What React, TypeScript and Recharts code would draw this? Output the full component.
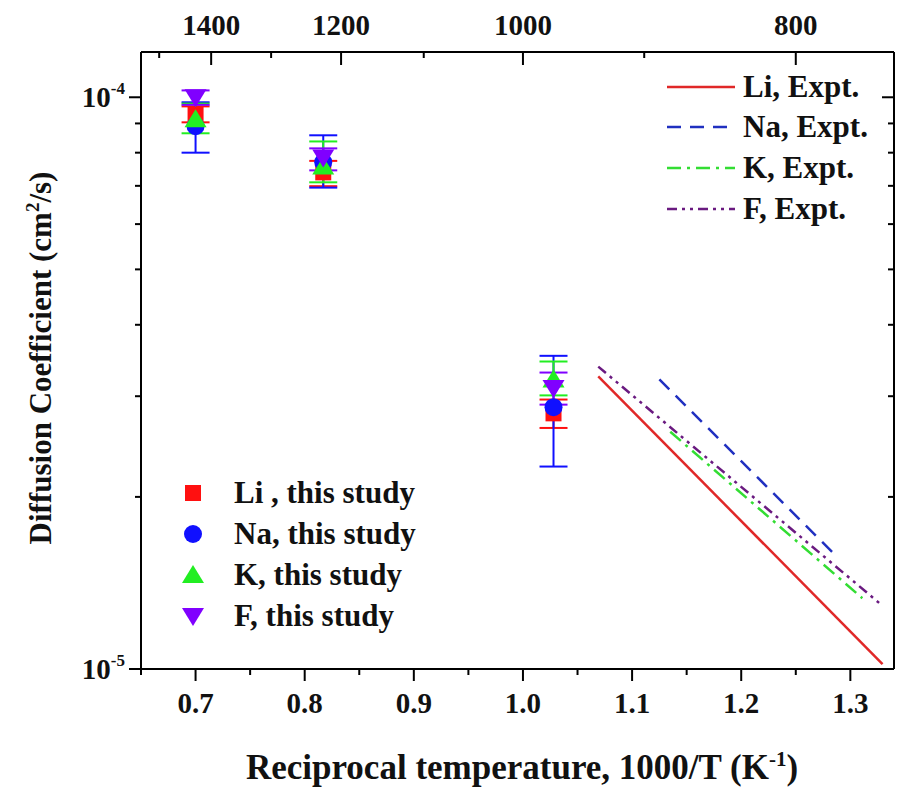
import React from 'react';
import { ComposedChart, XAxis, YAxis, Scatter, Line, ErrorBar } from 'recharts';

// 1000/T positions of the simulated points
const simX = [0.70, 0.817, 1.028];

// diffusion coefficients (cm^2/s) and [down, up] error deltas
const liVals = [9.34e-5, 7.39e-5, 2.80e-5];
const liErr = [[0.3e-5, 0.3e-5], [0.4e-5, 0.35e-5], [0.16e-5, 0.16e-5]];
const naVals = [8.9e-5, 7.7e-5, 2.87e-5];
const naErr = [[0.9e-5, 0.9e-5], [0.75e-5, 0.88e-5], [0.61e-5, 0.66e-5]];
const kVals = [9.15e-5, 7.57e-5, 3.21e-5];
const kErr = [[0.5e-5, 0.6e-5], [0.47e-5, 0.8e-5], [0.2e-5, 0.24e-5]];
const fVals = [1.0e-4, 7.85e-5, 3.10e-5];
const fErr = [[0.3e-5, 0.28e-5], [0.4e-5, 0.29e-5], [0.2e-5, 0.2e-5]];

// experimental Arrhenius lines: [x, D] end points
const liExpt = [[1.069, 3.25e-5], [1.3295, 1.02e-5]];
const naExpt = [[1.125, 3.21e-5], [1.288, 1.57e-5]];
const kExpt = [[1.135, 2.60e-5], [1.311, 1.33e-5]];
const fExpt = [[1.069, 3.38e-5], [1.3295, 1.29e-5]];

// axis ticks
const bottomTicks = [0.65, 0.7, 0.75, 0.8, 0.85, 0.9, 0.95, 1.0, 1.05, 1.1, 1.15, 1.2, 1.25, 1.3];
const topTemps = [1500, 1400, 1300, 1200, 1100, 1000, 900, 800];
const topMajor = [1400, 1200, 1000, 800];
const yTicks = [1e-5, 2e-5, 3e-5, 4e-5, 5e-5, 6e-5, 7e-5, 8e-5, 9e-5, 1e-4];

const FONT = '"Liberation Serif", serif';

const pts = (vals: number[], errs: number[][]) =>
  simX.map((x, i) => ({ x, y: vals[i], err: errs[i] }));
const line = (p: number[][]) => p.map(([x, y]) => ({ x, y }));

const C = {
  li: '#ff1010',
  na: '#1010ff',
  k: '#22ee22',
  f: '#8000ff',
  liL: '#e02828',
  naL: '#2030c0',
  kL: '#33dd33',
  fL: '#6a1a80',
};

const Square = (p: any) => <rect x={p.cx - 8} y={p.cy - 8} width={16} height={16} fill={C.li} />;
const Circle = (p: any) => <circle cx={p.cx} cy={p.cy} r={9} fill={C.na} />;
const TriUp = (p: any) => (
  <path d={`M${p.cx},${p.cy - 10} L${p.cx + 11},${p.cy + 8} L${p.cx - 11},${p.cy + 8}Z`} fill={C.k} />
);
const TriDown = (p: any) => (
  <path d={`M${p.cx},${p.cy + 10} L${p.cx + 11},${p.cy - 8} L${p.cx - 11},${p.cy - 8}Z`} fill={C.f} />
);

const isMajorX = (v: number) => Math.abs(v * 10 - Math.round(v * 10)) < 1e-6;

const BottomTick = (p: any) => {
  const v = p.payload.value;
  const major = isMajorX(v);
  return (
    <g>
      <line x1={p.x} y1={p.y} x2={p.x} y2={p.y + (major ? 12 : 6)} stroke="#000" strokeWidth={2} />
      {major && (
        <text x={p.x} y={p.y + 44} textAnchor="middle" fontFamily={FONT} fontWeight="bold" fontSize={29} fill="#111">
          {v.toFixed(1)}
        </text>
      )}
    </g>
  );
};

const TopTick = (p: any) => {
  const t = Math.round(1000 / p.payload.value);
  const major = topMajor.includes(t);
  return (
    <g>
      <line x1={p.x} y1={p.y} x2={p.x} y2={p.y + (major ? 13 : 6)} stroke="#000" strokeWidth={2} />
      {major && (
        <text x={p.x} y={p.y - 17} textAnchor="middle" fontFamily={FONT} fontWeight="bold" fontSize={29} fill="#111">
          {t}
        </text>
      )}
    </g>
  );
};

const expOf = (v: number) => Math.round(Math.log10(v));
const isDecade = (v: number) => Math.abs(Math.log10(v) - expOf(v)) < 1e-6;

const LeftTick = (p: any) => {
  const v = p.payload.value;
  const major = isDecade(v);
  return (
    <g>
      <line x1={p.x} y1={p.y} x2={p.x - (major ? 12 : 6)} y2={p.y} stroke="#000" strokeWidth={2} />
      {major && (
        <text x={p.x - 16} y={p.y + 10} textAnchor="end" fontFamily={FONT} fontWeight="bold" fontSize={29} fill="#111">
          10<tspan dy={-13} fontSize={17}>{expOf(v)}</tspan>
        </text>
      )}
    </g>
  );
};

const RightTick = (p: any) => {
  const major = isDecade(p.payload.value);
  return <line x1={p.x} y1={p.y} x2={p.x - (major ? 12 : 6)} y2={p.y} stroke="#000" strokeWidth={2} />;
};

const XTitle = () => (
  <text x={522} y={779} textAnchor="middle" fontFamily={FONT} fontWeight="bold" fontSize={35} fill="#111">
    Reciprocal temperature, 1000/T (K<tspan dy={-13} fontSize={21}>-1</tspan><tspan dy={13}>)</tspan>
  </text>
);

const YTitle = () => (
  <text x={0} y={0} transform="translate(51,358) rotate(-90)" textAnchor="middle" fontFamily={FONT} fontWeight="bold" fontSize={31} fill="#111">
    Diffusion Coefficient (cm<tspan dy={-12} fontSize={19}>2</tspan><tspan dy={12}>/s)</tspan>
  </text>
);

const exptLegend = [
  { name: 'Li, Expt.', color: C.liL, dash: undefined as string | undefined, y: 87 },
  { name: 'Na, Expt.', color: C.naL, dash: '14 9', y: 127 },
  { name: 'K, Expt.', color: C.kL, dash: '14 6 3 6', y: 168 },
  { name: 'F, Expt.', color: C.fL, dash: '10 5 3 5 3 5', y: 209 },
];

const studyLegend = [
  { name: 'Li , this study', Shape: Square, y: 493 },
  { name: 'Na, this study', Shape: Circle, y: 534 },
  { name: 'K, this study', Shape: TriUp, y: 575 },
  { name: 'F, this study', Shape: TriDown, y: 616 },
];

const textStyle: React.CSSProperties = {
  position: 'absolute',
  fontFamily: FONT,
  fontWeight: 'bold',
  fontSize: 31,
  color: '#111',
  lineHeight: '32px',
  whiteSpace: 'nowrap',
};

export default function App() {
  return (
    <div style={{ position: 'absolute', left: 0, top: 0, width: 900, height: 788, background: '#fff' }}>
      <ComposedChart width={900} height={788} margin={{ top: 0, right: 0, bottom: 0, left: 0 }}>
        <XAxis
          xAxisId="b"
          dataKey="x"
          type="number"
          domain={[0.65, 1.34]}
          allowDataOverflow
          ticks={bottomTicks}
          interval={0}
          tickSize={0}
          tickMargin={0}
          tick={BottomTick}
          height={119}
          axisLine={{ stroke: '#000', strokeWidth: 2 }}
          label={{ content: XTitle }}
        />
        <XAxis
          xAxisId="t"
          orientation="top"
          dataKey="x"
          type="number"
          domain={[0.65, 1.34]}
          allowDataOverflow
          ticks={topTemps.map((t) => 1000 / t)}
          interval={0}
          tickSize={0}
          tickMargin={0}
          tick={TopTick}
          height={52}
          axisLine={{ stroke: '#000', strokeWidth: 2 }}
        />
        <YAxis
          yAxisId="l"
          type="number"
          scale="log"
          domain={[1e-5, 1.2e-4]}
          allowDataOverflow
          ticks={yTicks}
          interval={0}
          tickSize={0}
          tickMargin={0}
          tick={LeftTick}
          width={141}
          axisLine={{ stroke: '#000', strokeWidth: 2 }}
          label={{ content: YTitle }}
        />
        <YAxis
          yAxisId="r"
          orientation="right"
          type="number"
          scale="log"
          domain={[1e-5, 1.2e-4]}
          allowDataOverflow
          ticks={yTicks}
          interval={0}
          tickSize={0}
          tickMargin={0}
          tick={RightTick}
          width={6}
          axisLine={{ stroke: '#000', strokeWidth: 2 }}
        />

        <Line xAxisId="b" yAxisId="l" data={line(liExpt)} dataKey="y" stroke={C.liL} strokeWidth={2.5} dot={false} isAnimationActive={false} />
        <Line xAxisId="b" yAxisId="l" data={line(naExpt)} dataKey="y" stroke={C.naL} strokeWidth={2.5} strokeDasharray="14 9" dot={false} isAnimationActive={false} />
        <Line xAxisId="b" yAxisId="l" data={line(kExpt)} dataKey="y" stroke={C.kL} strokeWidth={2.5} strokeDasharray="14 6 3 6" dot={false} isAnimationActive={false} />
        <Line xAxisId="b" yAxisId="l" data={line(fExpt)} dataKey="y" stroke={C.fL} strokeWidth={2.5} strokeDasharray="10 5 3 5 3 5" dot={false} isAnimationActive={false} />

        <Scatter xAxisId="b" yAxisId="l" data={pts(liVals, liErr)} dataKey="y" shape={Square} isAnimationActive={false}>
          <ErrorBar dataKey="err" direction="y" width={14} stroke={C.li} strokeWidth={2} />
        </Scatter>
        <Scatter xAxisId="b" yAxisId="l" data={pts(naVals, naErr)} dataKey="y" shape={Circle} isAnimationActive={false}>
          <ErrorBar dataKey="err" direction="y" width={14} stroke={C.na} strokeWidth={2} />
        </Scatter>
        <Scatter xAxisId="b" yAxisId="l" data={pts(kVals, kErr)} dataKey="y" shape={TriUp} isAnimationActive={false}>
          <ErrorBar dataKey="err" direction="y" width={14} stroke={C.k} strokeWidth={2} />
        </Scatter>
        <Scatter xAxisId="b" yAxisId="l" data={pts(fVals, fErr)} dataKey="y" shape={TriDown} isAnimationActive={false}>
          <ErrorBar dataKey="err" direction="y" width={14} stroke={C.f} strokeWidth={2} />
        </Scatter>
      </ComposedChart>

      {exptLegend.map((l) => (
        <div key={l.name}>
          <svg style={{ position: 'absolute', left: 665, top: l.y - 5 }} width={72} height={10}>
            <line x1={2} y1={5} x2={70} y2={5} stroke={l.color} strokeWidth={2.5} strokeDasharray={l.dash} />
          </svg>
          <div style={{ ...textStyle, left: 743, top: l.y - 16 }}>{l.name}</div>
        </div>
      ))}

      {studyLegend.map((l) => (
        <div key={l.name}>
          <svg style={{ position: 'absolute', left: 181, top: l.y - 12 }} width={24} height={24}>
            <l.Shape cx={12} cy={12} />
          </svg>
          <div style={{ ...textStyle, left: 234, top: l.y - 16 }}>{l.name}</div>
        </div>
      ))}
    </div>
  );
}
